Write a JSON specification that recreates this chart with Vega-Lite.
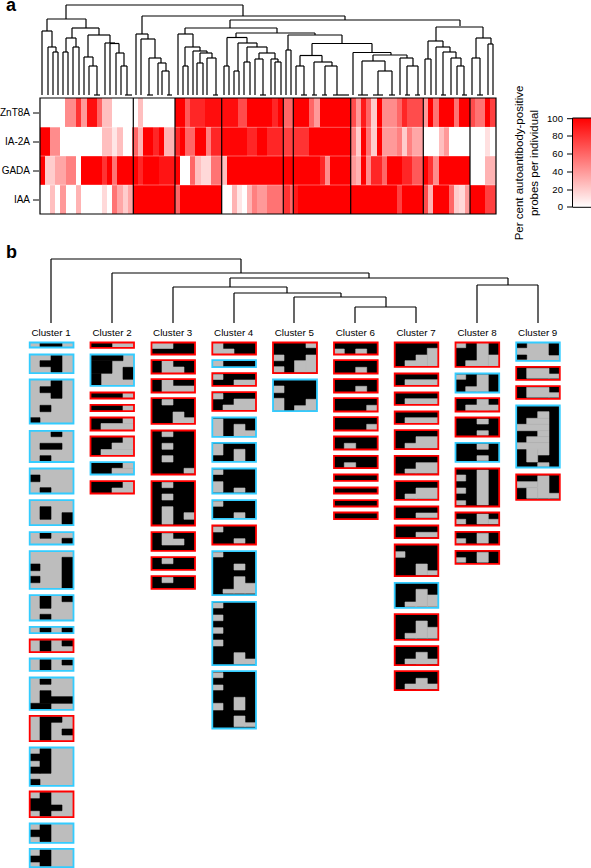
{
"$schema":"https://vega.github.io/schema/vega-lite/v6.json",
"width":591,"height":868,"padding":0,"autosize":{"type":"none"},
"background":"white",
"config":{"view":{"stroke":null},"text":{"font":"Liberation Sans"}},
"datasets":{
"links":[
{"xl":66,"xr":243,"top":5,"bl":19,"br":16},{"xl":47,"xr":86,"top":19,"bl":31,"br":28},{"xl":42,"xr":52,"top":31,"bl":95,"br":47},{"xl":48,"xr":56,"top":47,"bl":95,"br":52},{"xl":53,"xr":58,"top":52,"bl":95,"br":95},{"xl":72,"xr":99,"top":28,"bl":38,"br":35},{"xl":66,"xr":76,"top":38,"bl":52,"br":47},{"xl":63,"xr":68,"top":52,"bl":95,"br":95},{"xl":73,"xr":79,"top":47,"bl":95,"br":95},{"xl":88,"xr":110,"top":35,"bl":57,"br":43},{"xl":84,"xr":93,"top":57,"bl":95,"br":66},{"xl":89,"xr":97,"top":66,"bl":95,"br":95},{"xl":94,"xr":100,"top":95,"bl":95,"br":95},{"xl":105,"xr":115,"top":43,"bl":95,"br":43.5},{"xl":110,"xr":119,"top":43.5,"bl":95,"br":53},{"xl":116,"xr":124,"top":53,"bl":95,"br":66},{"xl":121,"xr":127,"top":66,"bl":95,"br":95},{"xl":125,"xr":132,"top":95,"bl":95,"br":95},
{"xl":142,"xr":345,"top":16,"bl":34,"br":20},{"xl":230,"xr":460,"top":20,"bl":28,"br":26},{"xl":185,"xr":277,"top":28,"bl":34,"br":33},{"xl":136,"xr":148,"top":34,"bl":95,"br":39},{"xl":141,"xr":155,"top":39,"bl":95,"br":58},{"xl":149,"xr":161,"top":58,"bl":95,"br":63},{"xl":158,"xr":166,"top":63,"bl":95,"br":71},{"xl":162,"xr":169,"top":71,"bl":95,"br":95},{"xl":147,"xr":153,"top":95,"bl":95,"br":95},{"xl":167,"xr":172,"top":95,"bl":95,"br":95},
{"xl":178,"xr":193,"top":34,"bl":95,"br":47},{"xl":185,"xr":200,"top":47,"bl":66,"br":51},{"xl":183,"xr":188,"top":66,"bl":95,"br":95},{"xl":193,"xr":207,"top":51,"bl":95,"br":53},{"xl":200,"xr":212,"top":53,"bl":63,"br":58},{"xl":197,"xr":203,"top":63,"bl":95,"br":95},{"xl":207,"xr":216,"top":58,"bl":95,"br":95},{"xl":213,"xr":218,"top":95,"bl":95,"br":95},
{"xl":236,"xr":315,"top":33,"bl":37.5,"br":35},{"xl":227,"xr":247,"top":37.5,"bl":66,"br":43},{"xl":224,"xr":229,"top":66,"bl":95,"br":95},{"xl":238,"xr":257,"top":43,"bl":71,"br":47},{"xl":234,"xr":239,"top":71,"bl":95,"br":95},{"xl":247,"xr":267,"top":47,"bl":62,"br":53},{"xl":244,"xr":250,"top":62,"bl":95,"br":95},{"xl":259,"xr":275,"top":53,"bl":59,"br":59},{"xl":255,"xr":263,"top":59,"bl":95,"br":95},{"xl":260,"xr":266,"top":95,"bl":95,"br":95},{"xl":271,"xr":278,"top":59,"bl":95,"br":62},{"xl":275,"xr":281,"top":62,"bl":95,"br":95},
{"xl":288,"xr":342,"top":35,"bl":50,"br":43.5},{"xl":286,"xr":291,"top":50,"bl":95,"br":95},{"xl":312,"xr":372,"top":43.5,"bl":55.5,"br":52.5},{"xl":300,"xr":322,"top":55.5,"bl":66,"br":62},{"xl":296,"xr":304,"top":66,"bl":95,"br":95},{"xl":301,"xr":307,"top":95,"bl":95,"br":95},{"xl":314,"xr":332,"top":62,"bl":95,"br":66},{"xl":312,"xr":317,"top":95,"bl":95,"br":95},{"xl":325,"xr":337,"top":66,"bl":95,"br":95},{"xl":322,"xr":327,"top":95,"bl":95,"br":95},{"xl":333,"xr":349,"top":95,"bl":95,"br":95},
{"xl":353,"xr":391,"top":52.5,"bl":95,"br":55},{"xl":373,"xr":407,"top":55,"bl":61,"br":58},{"xl":362,"xr":385,"top":61,"bl":95,"br":71},{"xl":358,"xr":368,"top":95,"bl":95,"br":95},{"xl":378,"xr":392,"top":71,"bl":95,"br":95},{"xl":373,"xr":383,"top":95,"bl":95,"br":95},{"xl":389,"xr":395,"top":95,"bl":95,"br":95},{"xl":400,"xr":413,"top":58,"bl":95,"br":66},{"xl":405,"xr":410,"top":95,"bl":95,"br":95},{"xl":407,"xr":418,"top":66,"bl":95,"br":95},{"xl":415,"xr":420,"top":95,"bl":95,"br":95},
{"xl":436,"xr":483,"top":27,"bl":41,"br":38},{"xl":428,"xr":443,"top":41,"bl":59,"br":47},{"xl":425,"xr":431,"top":59,"bl":95,"br":95},{"xl":436,"xr":450,"top":47,"bl":95,"br":52},{"xl":441,"xr":446,"top":95,"bl":95,"br":95},{"xl":443,"xr":456,"top":52,"bl":95,"br":58},{"xl":451,"xr":461,"top":58,"bl":95,"br":66},{"xl":457,"xr":464,"top":66,"bl":95,"br":95},{"xl":462,"xr":467,"top":95,"bl":95,"br":95},{"xl":476,"xr":491,"top":38,"bl":58,"br":44},{"xl":472,"xr":480,"top":58,"bl":95,"br":95},{"xl":477,"xr":483,"top":95,"bl":95,"br":95},{"xl":488,"xr":493,"top":44,"bl":95,"br":95},
{"xl":51,"xr":241,"top":259,"bl":323,"br":273},{"xl":112,"xr":369,"top":273,"bl":323,"br":278},{"xl":230,"xr":508,"top":278,"bl":287,"br":285},{"xl":173,"xr":287,"top":287,"bl":323,"br":293},{"xl":234,"xr":341,"top":293,"bl":323,"br":297},{"xl":294,"xr":386,"top":297,"bl":323,"br":307},{"xl":355,"xr":416,"top":307,"bl":323,"br":323},{"xl":477,"xr":538,"top":285,"bl":323,"br":323}
],
"heat":[
{"x":40,"x2":65,"y":98,"y2":127,"v":0},{"x":65,"x2":76,"y":98,"y2":127,"v":45},{"x":76,"x2":81,"y":98,"y2":127,"v":80},{"x":81,"x2":87,"y":98,"y2":127,"v":40},{"x":87,"x2":97,"y":98,"y2":127,"v":95},{"x":97,"x2":102,"y":98,"y2":127,"v":60},{"x":102,"x2":112,"y":98,"y2":127,"v":25},{"x":112,"x2":138,"y":98,"y2":127,"v":0},{"x":138,"x2":143,"y":98,"y2":127,"v":25},{"x":143,"x2":175,"y":98,"y2":127,"v":0},{"x":175,"x2":185,"y":98,"y2":127,"v":100},{"x":185,"x2":190,"y":98,"y2":127,"v":65},{"x":190,"x2":205,"y":98,"y2":127,"v":85},{"x":205,"x2":238,"y":98,"y2":127,"v":95},{"x":238,"x2":247,"y":98,"y2":127,"v":70},{"x":247,"x2":272,"y":98,"y2":127,"v":100},{"x":272,"x2":278,"y":98,"y2":127,"v":85},{"x":278,"x2":283,"y":98,"y2":127,"v":100},{"x":283,"x2":293,"y":98,"y2":127,"v":60},{"x":293,"x2":309,"y":98,"y2":127,"v":100},{"x":309,"x2":314,"y":98,"y2":127,"v":60},{"x":314,"x2":320,"y":98,"y2":127,"v":40},{"x":320,"x2":351,"y":98,"y2":127,"v":100},{"x":351,"x2":356,"y":98,"y2":127,"v":70},{"x":356,"x2":361,"y":98,"y2":127,"v":40},{"x":361,"x2":366,"y":98,"y2":127,"v":90},{"x":366,"x2":371,"y":98,"y2":127,"v":60},{"x":371,"x2":377,"y":98,"y2":127,"v":20},{"x":377,"x2":382,"y":98,"y2":127,"v":100},{"x":382,"x2":397,"y":98,"y2":127,"v":45},{"x":397,"x2":402,"y":98,"y2":127,"v":60},{"x":402,"x2":407,"y":98,"y2":127,"v":85},{"x":407,"x2":423,"y":98,"y2":127,"v":70},{"x":423,"x2":428,"y":98,"y2":127,"v":40},{"x":428,"x2":433,"y":98,"y2":127,"v":100},{"x":433,"x2":439,"y":98,"y2":127,"v":55},{"x":439,"x2":454,"y":98,"y2":127,"v":100},{"x":454,"x2":459,"y":98,"y2":127,"v":55},{"x":459,"x2":470,"y":98,"y2":127,"v":100},{"x":470,"x2":475,"y":98,"y2":127,"v":70},{"x":475,"x2":485,"y":98,"y2":127,"v":55},{"x":485,"x2":490,"y":98,"y2":127,"v":100},{"x":490,"x2":496,"y":98,"y2":127,"v":75},
{"x":40,"x2":50,"y":127,"y2":156,"v":100},{"x":50,"x2":60,"y":127,"y2":156,"v":45},{"x":60,"x2":102,"y":127,"y2":156,"v":0},{"x":102,"x2":112,"y":127,"y2":156,"v":25},{"x":112,"x2":117,"y":127,"y2":156,"v":10},{"x":117,"x2":123,"y":127,"y2":156,"v":25},{"x":123,"x2":132,"y":127,"y2":156,"v":0},{"x":132,"x2":138,"y":127,"y2":156,"v":60},{"x":138,"x2":143,"y":127,"y2":156,"v":30},{"x":143,"x2":153,"y":127,"y2":156,"v":100},{"x":153,"x2":159,"y":127,"y2":156,"v":85},{"x":159,"x2":164,"y":127,"y2":156,"v":100},{"x":164,"x2":175,"y":127,"y2":156,"v":30},{"x":175,"x2":180,"y":127,"y2":156,"v":85},{"x":180,"x2":185,"y":127,"y2":156,"v":100},{"x":185,"x2":195,"y":127,"y2":156,"v":60},{"x":195,"x2":206,"y":127,"y2":156,"v":100},{"x":206,"x2":211,"y":127,"y2":156,"v":50},{"x":211,"x2":222,"y":127,"y2":156,"v":85},{"x":222,"x2":247,"y":127,"y2":156,"v":98},{"x":247,"x2":257,"y":127,"y2":156,"v":85},{"x":257,"x2":267,"y":127,"y2":156,"v":100},{"x":267,"x2":283,"y":127,"y2":156,"v":85},{"x":283,"x2":293,"y":127,"y2":156,"v":75},{"x":293,"x2":309,"y":127,"y2":156,"v":80},{"x":309,"x2":351,"y":127,"y2":156,"v":100},{"x":351,"x2":356,"y":127,"y2":156,"v":50},{"x":356,"x2":361,"y":127,"y2":156,"v":20},{"x":361,"x2":366,"y":127,"y2":156,"v":100},{"x":366,"x2":371,"y":127,"y2":156,"v":55},{"x":371,"x2":377,"y":127,"y2":156,"v":20},{"x":377,"x2":382,"y":127,"y2":156,"v":100},{"x":382,"x2":397,"y":127,"y2":156,"v":40},{"x":397,"x2":402,"y":127,"y2":156,"v":50},{"x":402,"x2":407,"y":127,"y2":156,"v":20},{"x":407,"x2":412,"y":127,"y2":156,"v":50},{"x":412,"x2":423,"y":127,"y2":156,"v":35},{"x":423,"x2":439,"y":127,"y2":156,"v":0},{"x":439,"x2":444,"y":127,"y2":156,"v":25},{"x":444,"x2":449,"y":127,"y2":156,"v":40},{"x":449,"x2":485,"y":127,"y2":156,"v":0},{"x":485,"x2":490,"y":127,"y2":156,"v":12},{"x":490,"x2":496,"y":127,"y2":156,"v":0},
{"x":40,"x2":45,"y":156,"y2":185,"v":100},{"x":45,"x2":55,"y":156,"y2":185,"v":20},{"x":55,"x2":66,"y":156,"y2":185,"v":35},{"x":66,"x2":76,"y":156,"y2":185,"v":50},{"x":76,"x2":81,"y":156,"y2":185,"v":0},{"x":81,"x2":102,"y":156,"y2":185,"v":100},{"x":102,"x2":107,"y":156,"y2":185,"v":80},{"x":107,"x2":112,"y":156,"y2":185,"v":100},{"x":112,"x2":117,"y":156,"y2":185,"v":55},{"x":117,"x2":138,"y":156,"y2":185,"v":100},{"x":138,"x2":143,"y":156,"y2":185,"v":85},{"x":143,"x2":159,"y":156,"y2":185,"v":100},{"x":159,"x2":175,"y":156,"y2":185,"v":92},{"x":175,"x2":180,"y":156,"y2":185,"v":100},{"x":180,"x2":190,"y":156,"y2":185,"v":0},{"x":190,"x2":195,"y":156,"y2":185,"v":60},{"x":195,"x2":201,"y":156,"y2":185,"v":25},{"x":201,"x2":211,"y":156,"y2":185,"v":15},{"x":211,"x2":222,"y":156,"y2":185,"v":55},{"x":222,"x2":227,"y":156,"y2":185,"v":25},{"x":227,"x2":320,"y":156,"y2":185,"v":100},{"x":320,"x2":325,"y":156,"y2":185,"v":85},{"x":325,"x2":330,"y":156,"y2":185,"v":45},{"x":330,"x2":351,"y":156,"y2":185,"v":100},{"x":351,"x2":356,"y":156,"y2":185,"v":40},{"x":356,"x2":361,"y":156,"y2":185,"v":30},{"x":361,"x2":366,"y":156,"y2":185,"v":100},{"x":366,"x2":371,"y":156,"y2":185,"v":45},{"x":371,"x2":382,"y":156,"y2":185,"v":85},{"x":382,"x2":387,"y":156,"y2":185,"v":60},{"x":387,"x2":402,"y":156,"y2":185,"v":100},{"x":402,"x2":412,"y":156,"y2":185,"v":85},{"x":412,"x2":423,"y":156,"y2":185,"v":65},{"x":423,"x2":428,"y":156,"y2":185,"v":100},{"x":428,"x2":433,"y":156,"y2":185,"v":80},{"x":433,"x2":439,"y":156,"y2":185,"v":45},{"x":439,"x2":470,"y":156,"y2":185,"v":100},{"x":470,"x2":485,"y":156,"y2":185,"v":0},{"x":485,"x2":496,"y":156,"y2":185,"v":30},
{"x":40,"x2":50,"y":185,"y2":214,"v":0},{"x":50,"x2":55,"y":185,"y2":214,"v":25},{"x":55,"x2":60,"y":185,"y2":214,"v":0},{"x":60,"x2":66,"y":185,"y2":214,"v":40},{"x":66,"x2":76,"y":185,"y2":214,"v":0},{"x":76,"x2":81,"y":185,"y2":214,"v":30},{"x":81,"x2":102,"y":185,"y2":214,"v":0},{"x":102,"x2":107,"y":185,"y2":214,"v":15},{"x":107,"x2":112,"y":185,"y2":214,"v":0},{"x":112,"x2":117,"y":185,"y2":214,"v":55},{"x":117,"x2":123,"y":185,"y2":214,"v":35},{"x":123,"x2":128,"y":185,"y2":214,"v":20},{"x":128,"x2":133,"y":185,"y2":214,"v":35},{"x":133,"x2":175,"y":185,"y2":214,"v":100},{"x":175,"x2":180,"y":185,"y2":214,"v":60},{"x":180,"x2":222,"y":185,"y2":214,"v":100},{"x":222,"x2":232,"y":185,"y2":214,"v":0},{"x":232,"x2":237,"y":185,"y2":214,"v":30},{"x":237,"x2":242,"y":185,"y2":214,"v":10},{"x":242,"x2":247,"y":185,"y2":214,"v":0},{"x":247,"x2":252,"y":185,"y2":214,"v":30},{"x":252,"x2":257,"y":185,"y2":214,"v":50},{"x":257,"x2":267,"y":185,"y2":214,"v":40},{"x":267,"x2":283,"y":185,"y2":214,"v":55},{"x":283,"x2":290,"y":185,"y2":214,"v":80},{"x":290,"x2":293,"y":185,"y2":214,"v":60},{"x":293,"x2":298,"y":185,"y2":214,"v":90},{"x":298,"x2":397,"y":185,"y2":214,"v":100},{"x":397,"x2":402,"y":185,"y2":214,"v":75},{"x":402,"x2":423,"y":185,"y2":214,"v":100},{"x":423,"x2":428,"y":185,"y2":214,"v":70},{"x":428,"x2":433,"y":185,"y2":214,"v":30},{"x":433,"x2":449,"y":185,"y2":214,"v":100},{"x":449,"x2":454,"y":185,"y2":214,"v":60},{"x":454,"x2":459,"y":185,"y2":214,"v":20},{"x":459,"x2":465,"y":185,"y2":214,"v":15},{"x":465,"x2":470,"y":185,"y2":214,"v":40},{"x":470,"x2":485,"y":185,"y2":214,"v":100},{"x":485,"x2":496,"y":185,"y2":214,"v":75}
],
"seps":[{"x":133.3,"y":98,"y2":214},{"x":175,"y":98,"y2":214},{"x":221.7,"y":98,"y2":214},{"x":283.3,"y":98,"y2":214},{"x":293.3,"y":98,"y2":214},{"x":350.7,"y":98,"y2":214},{"x":423.3,"y":98,"y2":214},{"x":470,"y":98,"y2":214}],
"rowLabels":[{"t":"ZnT8A","x":30,"xt":33,"xe":39,"y":113},{"t":"IA-2A","x":30,"xt":33,"xe":39,"y":142},{"t":"GADA","x":30,"xt":33,"xe":39,"y":171},{"t":"IAA","x":30,"xt":33,"xe":39,"y":200}],
"legendTicks":[{"t":"100","x":563,"xt":567,"xe":572,"y":118.7},{"t":"80","x":563,"xt":567,"xe":572,"y":136},{"t":"60","x":563,"xt":567,"xe":572,"y":154},{"t":"40","x":563,"xt":567,"xe":572,"y":172},{"t":"20","x":563,"xt":567,"xe":572,"y":190},{"t":"0","x":563,"xt":567,"xe":572,"y":207}],
"clusters":[{"t":"Cluster 1","x":51,"y":333},{"t":"Cluster 2","x":112,"y":333},{"t":"Cluster 3","x":172.7,"y":333},{"t":"Cluster 4","x":233.7,"y":333},{"t":"Cluster 5","x":294.3,"y":333},{"t":"Cluster 6","x":355.3,"y":333},{"t":"Cluster 7","x":416,"y":333},{"t":"Cluster 8","x":477,"y":333},{"t":"Cluster 9","x":537.7,"y":333}],
"frames":[
{"x":29.7,"x2":73.5,"y":342.5,"y2":347.5,"k":"blue","bg":"neg"},{"x":29.7,"x2":73.5,"y":354.5,"y2":373.2,"k":"blue","bg":"neg"},{"x":29.7,"x2":73.5,"y":379.5,"y2":423.5,"k":"blue","bg":"neg"},{"x":29.7,"x2":73.5,"y":430.8,"y2":462,"k":"blue","bg":"neg"},{"x":29.7,"x2":73.5,"y":468.5,"y2":493.5,"k":"blue","bg":"neg"},{"x":29.7,"x2":73.5,"y":500.1,"y2":525.2,"k":"blue","bg":"neg"},{"x":29.7,"x2":73.5,"y":532.1,"y2":544.5,"k":"blue","bg":"neg"},{"x":29.7,"x2":73.5,"y":551.1,"y2":588.9,"k":"blue","bg":"neg"},{"x":29.7,"x2":73.5,"y":595.1,"y2":620.5,"k":"blue","bg":"neg"},{"x":29.7,"x2":73.5,"y":626.8,"y2":633.2,"k":"blue","bg":"neg"},{"x":29.7,"x2":73.5,"y":639.5,"y2":652.2,"k":"red","bg":"neg"},{"x":29.7,"x2":73.5,"y":658.5,"y2":670.9,"k":"blue","bg":"neg"},{"x":29.7,"x2":73.5,"y":677.5,"y2":709.9,"k":"blue","bg":"neg"},{"x":29.7,"x2":73.5,"y":715.8,"y2":741.2,"k":"red","bg":"neg"},{"x":29.7,"x2":73.5,"y":747.5,"y2":785.9,"k":"blue","bg":"neg"},{"x":29.7,"x2":73.5,"y":791.5,"y2":817.2,"k":"red","bg":"neg"},{"x":29.7,"x2":73.5,"y":823.5,"y2":842.9,"k":"blue","bg":"neg"},{"x":29.7,"x2":73.5,"y":848.8,"y2":867.2,"k":"blue","bg":"neg"},
{"x":90.5,"x2":134,"y":342.5,"y2":347.9,"k":"red","bg":"neg"},{"x":90.5,"x2":134,"y":354.5,"y2":385.9,"k":"blue","bg":"neg"},{"x":90.5,"x2":134,"y":392.5,"y2":398.5,"k":"red","bg":"pos"},{"x":90.5,"x2":134,"y":404.8,"y2":411.2,"k":"red","bg":"pos"},{"x":90.5,"x2":134,"y":417.5,"y2":430.5,"k":"red","bg":"pos"},{"x":90.5,"x2":134,"y":436.5,"y2":455.9,"k":"red","bg":"pos"},{"x":90.5,"x2":134,"y":462.1,"y2":474.5,"k":"blue","bg":"pos"},{"x":90.5,"x2":134,"y":481.1,"y2":493.5,"k":"red","bg":"pos"},
{"x":151.5,"x2":195,"y":342.5,"y2":354.5,"k":"red","bg":"pos"},{"x":151.5,"x2":195,"y":360.1,"y2":373.5,"k":"red","bg":"pos"},{"x":151.5,"x2":195,"y":379.1,"y2":392.5,"k":"red","bg":"pos"},{"x":151.5,"x2":195,"y":398.1,"y2":423.9,"k":"red","bg":"pos"},{"x":151.5,"x2":195,"y":430.5,"y2":474.5,"k":"red","bg":"pos"},{"x":151.5,"x2":195,"y":481.1,"y2":525.5,"k":"red","bg":"pos"},{"x":151.5,"x2":195,"y":532.1,"y2":550.9,"k":"red","bg":"pos"},{"x":151.5,"x2":195,"y":557.1,"y2":569.9,"k":"red","bg":"pos"},{"x":151.5,"x2":195,"y":576.1,"y2":588.9,"k":"red","bg":"pos"},
{"x":212.3,"x2":256,"y":342.5,"y2":354.5,"k":"red","bg":"pos"},{"x":212.3,"x2":256,"y":360.1,"y2":367.2,"k":"blue","bg":"pos"},{"x":212.3,"x2":256,"y":373.1,"y2":385.9,"k":"red","bg":"pos"},{"x":212.3,"x2":256,"y":392.1,"y2":410.9,"k":"red","bg":"pos"},{"x":212.3,"x2":256,"y":417.5,"y2":436.9,"k":"blue","bg":"pos"},{"x":212.3,"x2":256,"y":442.8,"y2":461.9,"k":"blue","bg":"pos"},{"x":212.3,"x2":256,"y":468.5,"y2":493.5,"k":"blue","bg":"pos"},{"x":212.3,"x2":256,"y":500.1,"y2":518.9,"k":"blue","bg":"pos"},{"x":212.3,"x2":256,"y":525.5,"y2":544.5,"k":"red","bg":"pos"},{"x":212.3,"x2":256,"y":551.1,"y2":595.2,"k":"blue","bg":"pos"},{"x":212.3,"x2":256,"y":601.8,"y2":665.2,"k":"blue","bg":"pos"},{"x":212.3,"x2":256,"y":671.1,"y2":728.5,"k":"blue","bg":"pos"},
{"x":273,"x2":317,"y":342.5,"y2":373.2,"k":"red","bg":"pos"},{"x":273,"x2":317,"y":379.5,"y2":411.2,"k":"blue","bg":"pos"},
{"x":334,"x2":377.7,"y":342.5,"y2":354.5,"k":"red","bg":"pos"},{"x":334,"x2":377.7,"y":360.1,"y2":373.5,"k":"red","bg":"pos"},{"x":334,"x2":377.7,"y":379.1,"y2":392.5,"k":"red","bg":"pos"},{"x":334,"x2":377.7,"y":398.1,"y2":411.5,"k":"red","bg":"pos"},{"x":334,"x2":377.7,"y":417.1,"y2":430.5,"k":"red","bg":"pos"},{"x":334,"x2":377.7,"y":436.5,"y2":449.5,"k":"red","bg":"pos"},{"x":334,"x2":377.7,"y":455.8,"y2":468.2,"k":"red","bg":"pos"},{"x":334,"x2":377.7,"y":474.5,"y2":480.9,"k":"red","bg":"pos"},{"x":334,"x2":377.7,"y":487.5,"y2":493.5,"k":"red","bg":"pos"},{"x":334,"x2":377.7,"y":500.1,"y2":506.5,"k":"red","bg":"pos"},{"x":334,"x2":377.7,"y":512.5,"y2":519.2,"k":"red","bg":"pos"},
{"x":394.7,"x2":438.3,"y":342.5,"y2":366.9,"k":"red","bg":"pos"},{"x":394.7,"x2":438.3,"y":373.5,"y2":385.9,"k":"red","bg":"pos"},{"x":394.7,"x2":438.3,"y":392.5,"y2":404.9,"k":"red","bg":"pos"},{"x":394.7,"x2":438.3,"y":411.5,"y2":423.9,"k":"red","bg":"pos"},{"x":394.7,"x2":438.3,"y":430.1,"y2":449.2,"k":"red","bg":"pos"},{"x":394.7,"x2":438.3,"y":455.8,"y2":474.5,"k":"red","bg":"pos"},{"x":394.7,"x2":438.3,"y":481.1,"y2":499.9,"k":"red","bg":"pos"},{"x":394.7,"x2":438.3,"y":506.5,"y2":518.9,"k":"red","bg":"pos"},{"x":394.7,"x2":438.3,"y":525.5,"y2":538.2,"k":"red","bg":"pos"},{"x":394.7,"x2":438.3,"y":544.5,"y2":576.2,"k":"red","bg":"pos"},{"x":394.7,"x2":438.3,"y":582.8,"y2":607.9,"k":"blue","bg":"pos"},{"x":394.7,"x2":438.3,"y":614.1,"y2":639.9,"k":"red","bg":"pos"},{"x":394.7,"x2":438.3,"y":646.1,"y2":665.2,"k":"red","bg":"pos"},{"x":394.7,"x2":438.3,"y":671.1,"y2":690.2,"k":"red","bg":"pos"},
{"x":455.5,"x2":499.2,"y":342.5,"y2":366.9,"k":"red","bg":"pos"},{"x":455.5,"x2":499.2,"y":373.5,"y2":392.5,"k":"blue","bg":"pos"},{"x":455.5,"x2":499.2,"y":398.1,"y2":411.5,"k":"red","bg":"pos"},{"x":455.5,"x2":499.2,"y":417.5,"y2":436.5,"k":"red","bg":"pos"},{"x":455.5,"x2":499.2,"y":442.8,"y2":461.9,"k":"blue","bg":"pos"},{"x":455.5,"x2":499.2,"y":468.5,"y2":506.5,"k":"red","bg":"pos"},{"x":455.5,"x2":499.2,"y":512.5,"y2":525.5,"k":"red","bg":"pos"},{"x":455.5,"x2":499.2,"y":531.8,"y2":544.5,"k":"red","bg":"pos"},{"x":455.5,"x2":499.2,"y":550.8,"y2":563.9,"k":"red","bg":"pos"},
{"x":516.2,"x2":559.8,"y":342.5,"y2":360.9,"k":"blue","bg":"neg"},{"x":516.2,"x2":559.8,"y":366.8,"y2":379.9,"k":"red","bg":"pos"},{"x":516.2,"x2":559.8,"y":386.1,"y2":398.9,"k":"red","bg":"pos"},{"x":516.2,"x2":559.8,"y":405.5,"y2":467.5,"k":"blue","bg":"pos"},{"x":516.2,"x2":559.8,"y":474.5,"y2":499.9,"k":"red","bg":"pos"}
],
"patches":[
{"x":40,"x2":62,"y":342.5,"y2":347.5,"s":"pos"},{"x":51,"x2":62,"y":355.2,"y2":372.5,"s":"pos"},{"x":40,"x2":51,"y":360.7,"y2":366.7,"s":"pos"},{"x":51,"x2":62,"y":380.3,"y2":398.3,"s":"pos"},{"x":40,"x2":51,"y":386.7,"y2":392.7,"s":"pos"},{"x":40,"x2":51,"y":405.3,"y2":411.7,"s":"pos"},{"x":30,"x2":40,"y":417.7,"y2":423,"s":"pos"},{"x":51,"x2":62,"y":431.7,"y2":436.7,"s":"pos"},{"x":40,"x2":62,"y":443.3,"y2":449.3,"s":"pos"},{"x":40,"x2":51,"y":455.7,"y2":461,"s":"pos"},{"x":30,"x2":40,"y":475,"y2":481.7,"s":"pos"},{"x":40,"x2":51,"y":487.7,"y2":492.7,"s":"pos"},{"x":40,"x2":51,"y":506.7,"y2":519.3,"s":"pos"},{"x":62,"x2":73,"y":512.7,"y2":524.3,"s":"pos"},{"x":40,"x2":51,"y":533,"y2":538.3,"s":"pos"},{"x":62,"x2":73,"y":538.3,"y2":543.5,"s":"pos"},{"x":62,"x2":73,"y":557.3,"y2":588.3,"s":"pos"},{"x":30,"x2":40,"y":564,"y2":570.7,"s":"pos"},{"x":30,"x2":40,"y":576.3,"y2":582.7,"s":"pos"},{"x":40,"x2":51,"y":596,"y2":608.3,"s":"pos"},{"x":62,"x2":73,"y":596,"y2":601.7,"s":"pos"},{"x":40,"x2":51,"y":614.3,"y2":619.7,"s":"pos"},{"x":40,"x2":51,"y":627.5,"y2":632.5,"s":"pos"},{"x":62,"x2":73,"y":627.5,"y2":632.5,"s":"pos"},{"x":40,"x2":51,"y":640.3,"y2":651.3,"s":"pos"},{"x":62,"x2":73,"y":640.3,"y2":646,"s":"pos"},{"x":40,"x2":51,"y":659.3,"y2":670,"s":"pos"},{"x":62,"x2":73,"y":660,"y2":665,"s":"pos"},{"x":40,"x2":51,"y":679,"y2":684.3,"s":"pos"},{"x":40,"x2":51,"y":690.7,"y2":703.3,"s":"pos"},{"x":51,"x2":73,"y":696.7,"y2":703.3,"s":"pos"},{"x":30,"x2":51,"y":703.3,"y2":709,"s":"pos"},{"x":40,"x2":51,"y":716.7,"y2":740.4,"s":"pos"},{"x":51,"x2":62,"y":716.7,"y2":722.3,"s":"pos"},{"x":62,"x2":73,"y":729,"y2":735,"s":"pos"},{"x":40,"x2":51,"y":748.5,"y2":773.3,"s":"pos"},{"x":30,"x2":40,"y":754,"y2":760.7,"s":"pos"},{"x":30,"x2":40,"y":767,"y2":773.3,"s":"pos"},{"x":30,"x2":40,"y":779.3,"y2":785,"s":"pos"},{"x":40,"x2":51,"y":792.3,"y2":816.2,"s":"pos"},{"x":30,"x2":40,"y":798.7,"y2":810.7,"s":"pos"},{"x":51,"x2":62,"y":805,"y2":810.7,"s":"pos"},{"x":40,"x2":51,"y":824.3,"y2":841.7,"s":"pos"},{"x":30,"x2":40,"y":830,"y2":836.7,"s":"pos"},{"x":40,"x2":51,"y":849.6,"y2":866.4,"s":"pos"},{"x":30,"x2":40,"y":856,"y2":862,"s":"pos"},
{"x":91,"x2":112,"y":343,"y2":347.4,"s":"pos"},{"x":91,"x2":123,"y":355,"y2":360.7,"s":"pos"},{"x":91,"x2":112,"y":360.7,"y2":373.3,"s":"pos"},{"x":91,"x2":101,"y":373.3,"y2":385.2,"s":"pos"},{"x":123,"x2":133.6,"y":367.3,"y2":379.3,"s":"pos"},{"x":123,"x2":134,"y":392.5,"y2":398.5,"s":"neg"},{"x":123,"x2":134,"y":404.8,"y2":411.2,"s":"neg"},{"x":123,"x2":134,"y":418,"y2":423.5,"s":"neg"},{"x":101,"x2":134,"y":423.5,"y2":430,"s":"neg"},{"x":123,"x2":134,"y":437,"y2":443,"s":"neg"},{"x":112,"x2":134,"y":443,"y2":449.5,"s":"neg"},{"x":101,"x2":134,"y":449.5,"y2":455.5,"s":"neg"},{"x":123,"x2":134,"y":462.7,"y2":468.3,"s":"neg"},{"x":112,"x2":134,"y":468.3,"y2":473.9,"s":"neg"},{"x":123,"x2":134,"y":482,"y2":488,"s":"neg"},{"x":112,"x2":134,"y":488,"y2":493,"s":"neg"},
{"x":151.5,"x2":173,"y":343,"y2":348.5,"s":"neg"},{"x":162,"x2":173,"y":361,"y2":373,"s":"neg"},{"x":173,"x2":184,"y":367,"y2":373,"s":"neg"},{"x":162,"x2":173,"y":380,"y2":392,"s":"neg"},{"x":173,"x2":195,"y":386,"y2":392,"s":"neg"},{"x":162,"x2":173,"y":399.5,"y2":405,"s":"neg"},{"x":173,"x2":184,"y":412,"y2":423.4,"s":"neg"},{"x":184,"x2":195,"y":417.7,"y2":423.4,"s":"neg"},{"x":162,"x2":173,"y":431.7,"y2":436.7,"s":"neg"},{"x":162,"x2":173,"y":443.3,"y2":449.3,"s":"neg"},{"x":162,"x2":173,"y":455.7,"y2":462,"s":"neg"},{"x":184,"x2":195,"y":468.3,"y2":473.3,"s":"neg"},{"x":162,"x2":173,"y":482.3,"y2":487.7,"s":"neg"},{"x":162,"x2":173,"y":494,"y2":500,"s":"neg"},{"x":162,"x2":173,"y":506.7,"y2":524.3,"s":"neg"},{"x":184,"x2":195,"y":512.7,"y2":519.3,"s":"neg"},{"x":162,"x2":173,"y":533.3,"y2":545,"s":"neg"},{"x":173,"x2":184,"y":539,"y2":545,"s":"neg"},{"x":162,"x2":173,"y":558.3,"y2":563.7,"s":"neg"},{"x":162,"x2":173,"y":577.3,"y2":582.7,"s":"neg"},
{"x":212.5,"x2":223,"y":343,"y2":354,"s":"neg"},{"x":223,"x2":234,"y":349,"y2":354,"s":"neg"},{"x":212.5,"x2":223,"y":361,"y2":366.5,"s":"neg"},{"x":212.5,"x2":223,"y":374.5,"y2":379.5,"s":"neg"},{"x":234,"x2":256,"y":380,"y2":385.5,"s":"neg"},{"x":212.5,"x2":223,"y":393.5,"y2":399,"s":"neg"},{"x":234,"x2":256,"y":399,"y2":410.5,"s":"neg"},{"x":223,"x2":234,"y":405,"y2":410.5,"s":"neg"},{"x":212.5,"x2":223,"y":419,"y2":436.5,"s":"neg"},{"x":234,"x2":245,"y":424.3,"y2":436.5,"s":"neg"},{"x":245,"x2":256,"y":430.7,"y2":436.5,"s":"neg"},{"x":212.5,"x2":223,"y":444,"y2":455,"s":"neg"},{"x":234,"x2":245,"y":449.3,"y2":461,"s":"neg"},{"x":212.5,"x2":223,"y":469.7,"y2":474.5,"s":"neg"},{"x":212.5,"x2":223,"y":481.7,"y2":492.3,"s":"neg"},{"x":234,"x2":245,"y":488,"y2":492.3,"s":"neg"},{"x":212.5,"x2":223,"y":501.3,"y2":506.3,"s":"neg"},{"x":234,"x2":245,"y":512.7,"y2":518.3,"s":"neg"},{"x":212.5,"x2":223,"y":526.7,"y2":532,"s":"neg"},{"x":234,"x2":245,"y":538.7,"y2":543.3,"s":"neg"},{"x":212.5,"x2":223,"y":552.3,"y2":557,"s":"neg"},{"x":234,"x2":245,"y":564,"y2":570,"s":"neg"},{"x":234,"x2":245,"y":576.7,"y2":593.3,"s":"neg"},{"x":245,"x2":256,"y":583.3,"y2":593.3,"s":"neg"},{"x":223,"x2":234,"y":589.3,"y2":593.3,"s":"neg"},{"x":212.5,"x2":223,"y":603,"y2":608,"s":"neg"},{"x":212.5,"x2":223,"y":615,"y2":620.7,"s":"neg"},{"x":212.5,"x2":223,"y":627.7,"y2":633.3,"s":"neg"},{"x":212.5,"x2":223,"y":640,"y2":646,"s":"neg"},{"x":234,"x2":245,"y":652.7,"y2":664,"s":"neg"},{"x":245,"x2":256,"y":659,"y2":664,"s":"neg"},{"x":212.5,"x2":223,"y":672.7,"y2":677.7,"s":"neg"},{"x":212.5,"x2":223,"y":685,"y2":690,"s":"neg"},{"x":212.5,"x2":223,"y":703.3,"y2":710,"s":"neg"},{"x":234,"x2":245,"y":697.3,"y2":710,"s":"neg"},{"x":234,"x2":245,"y":716,"y2":726.7,"s":"neg"},{"x":245,"x2":256,"y":722.7,"y2":726.7,"s":"neg"},
{"x":306,"x2":316,"y":342.7,"y2":347.7,"s":"neg"},{"x":273.5,"x2":284,"y":355,"y2":360.7,"s":"neg"},{"x":273.5,"x2":284,"y":366.7,"y2":372.3,"s":"neg"},{"x":306,"x2":316,"y":355,"y2":372.3,"s":"neg"},{"x":294.5,"x2":306,"y":360.7,"y2":372.3,"s":"neg"},{"x":273.5,"x2":284,"y":386,"y2":392.7,"s":"neg"},{"x":273.5,"x2":284,"y":398.3,"y2":410.7,"s":"neg"},{"x":294.5,"x2":306,"y":405.7,"y2":410.7,"s":"neg"},{"x":306,"x2":316,"y":399.3,"y2":410.7,"s":"neg"},
{"x":334.5,"x2":344.3,"y":349,"y2":354,"s":"neg"},{"x":355.7,"x2":366.7,"y":349,"y2":354,"s":"neg"},{"x":355.7,"x2":366.7,"y":367.3,"y2":373,"s":"neg"},{"x":355.7,"x2":366.7,"y":386.3,"y2":392,"s":"neg"},{"x":366.7,"x2":377.3,"y":405.3,"y2":411,"s":"neg"},{"x":366.7,"x2":377.3,"y":424.3,"y2":430,"s":"neg"},{"x":344.3,"x2":355.7,"y":443.3,"y2":448.8,"s":"neg"},{"x":344.3,"x2":355.7,"y":462.7,"y2":467.5,"s":"neg"},
{"x":427.3,"x2":438,"y":348.3,"y2":366,"s":"neg"},{"x":416,"x2":427.3,"y":355,"y2":366,"s":"neg"},{"x":405,"x2":416,"y":360.7,"y2":366,"s":"neg"},{"x":405,"x2":438,"y":379.7,"y2":385,"s":"neg"},{"x":405,"x2":438,"y":398.7,"y2":404,"s":"neg"},{"x":405,"x2":438,"y":417.7,"y2":423,"s":"neg"},{"x":416,"x2":438,"y":436.7,"y2":448.3,"s":"neg"},{"x":405,"x2":416,"y":443.3,"y2":448.3,"s":"neg"},{"x":416,"x2":438,"y":462.7,"y2":473.3,"s":"neg"},{"x":405,"x2":416,"y":469,"y2":473.3,"s":"neg"},{"x":416,"x2":438,"y":488,"y2":498.7,"s":"neg"},{"x":405,"x2":416,"y":494,"y2":498.7,"s":"neg"},{"x":416,"x2":438,"y":513,"y2":517.7,"s":"neg"},{"x":416,"x2":438,"y":532.3,"y2":537,"s":"neg"},{"x":395,"x2":405,"y":551.7,"y2":557.3,"s":"neg"},{"x":416,"x2":427.3,"y":564,"y2":575,"s":"neg"},{"x":427.3,"x2":438,"y":570.7,"y2":575,"s":"neg"},{"x":416,"x2":427.3,"y":589.3,"y2":606.7,"s":"neg"},{"x":427.3,"x2":438,"y":595,"y2":606.7,"s":"neg"},{"x":405,"x2":416,"y":602,"y2":606.7,"s":"neg"},{"x":416,"x2":427.3,"y":621,"y2":638.3,"s":"neg"},{"x":427.3,"x2":438,"y":627.3,"y2":638.3,"s":"neg"},{"x":405,"x2":416,"y":633.3,"y2":638.3,"s":"neg"},{"x":416,"x2":427.3,"y":652.3,"y2":664,"s":"neg"},{"x":405,"x2":438,"y":659,"y2":664,"s":"neg"},{"x":416,"x2":427.3,"y":678.3,"y2":689,"s":"neg"},{"x":405,"x2":438,"y":684,"y2":689,"s":"neg"},
{"x":455.7,"x2":465.7,"y":342.7,"y2":347.7,"s":"neg"},{"x":477,"x2":488.3,"y":342.7,"y2":366,"s":"neg"},{"x":488.3,"x2":499,"y":355,"y2":366,"s":"neg"},{"x":465.7,"x2":477,"y":360.7,"y2":366,"s":"neg"},{"x":455.7,"x2":465.7,"y":374.7,"y2":379.3,"s":"neg"},{"x":477,"x2":488.3,"y":374.7,"y2":391.7,"s":"neg"},{"x":465.7,"x2":477,"y":386.7,"y2":391.7,"s":"neg"},{"x":477,"x2":488.3,"y":399.3,"y2":410.7,"s":"neg"},{"x":465.7,"x2":499,"y":405,"y2":410.7,"s":"neg"},{"x":477,"x2":488.3,"y":419,"y2":424,"s":"neg"},{"x":477,"x2":488.3,"y":430.7,"y2":435.3,"s":"neg"},{"x":477,"x2":488.3,"y":444,"y2":449.3,"s":"neg"},{"x":477,"x2":488.3,"y":455.7,"y2":460.7,"s":"neg"},{"x":477,"x2":488.3,"y":470,"y2":505,"s":"neg"},{"x":455.7,"x2":465.7,"y":475,"y2":481,"s":"neg"},{"x":455.7,"x2":465.7,"y":488,"y2":493.3,"s":"neg"},{"x":455.7,"x2":465.7,"y":500.7,"y2":505,"s":"neg"},{"x":477,"x2":488.3,"y":514,"y2":524,"s":"neg"},{"x":455.7,"x2":465.7,"y":519.3,"y2":524,"s":"neg"},{"x":488.3,"x2":499,"y":519.3,"y2":524,"s":"neg"},{"x":477,"x2":488.3,"y":533.3,"y2":543.3,"s":"neg"},{"x":455.7,"x2":465.7,"y":538.7,"y2":543.3,"s":"neg"},{"x":477,"x2":488.3,"y":552.3,"y2":562.3,"s":"neg"},{"x":455.7,"x2":465.7,"y":557.7,"y2":562.3,"s":"neg"},
{"x":516.7,"x2":526.7,"y":343,"y2":347.7,"s":"pos"},{"x":516.7,"x2":526.7,"y":355,"y2":359.3,"s":"pos"},{"x":549,"x2":559.3,"y":343,"y2":355,"s":"pos"},{"x":526.7,"x2":549,"y":368.3,"y2":378.3,"s":"neg"},{"x":549,"x2":559.3,"y":374,"y2":378.3,"s":"neg"},{"x":526.7,"x2":549,"y":387.3,"y2":397.3,"s":"neg"},{"x":549,"x2":559.3,"y":392.7,"y2":397.3,"s":"neg"},{"x":537.7,"x2":549,"y":411.7,"y2":418.3,"s":"neg"},{"x":526.7,"x2":549,"y":418.3,"y2":424.3,"s":"neg"},{"x":516.7,"x2":549,"y":424.3,"y2":430.7,"s":"neg"},{"x":537.7,"x2":549,"y":430.7,"y2":436.7,"s":"neg"},{"x":526.7,"x2":549,"y":436.7,"y2":442.7,"s":"neg"},{"x":516.7,"x2":549,"y":442.7,"y2":449,"s":"neg"},{"x":537.7,"x2":549,"y":449,"y2":455,"s":"neg"},{"x":526.7,"x2":537.7,"y":449,"y2":462,"s":"neg"},{"x":537.7,"x2":549,"y":462.7,"y2":466.7,"s":"neg"},{"x":537.7,"x2":549,"y":475.7,"y2":498.3,"s":"neg"},{"x":516.7,"x2":537.7,"y":481.7,"y2":487.7,"s":"neg"},{"x":526.7,"x2":537.7,"y":487.7,"y2":498.3,"s":"neg"},{"x":549,"x2":559.3,"y":493.3,"y2":498.3,"s":"neg"}
]
},
"layer":[
{"data":{"name":"heat"},"mark":{"type":"rect"},"encoding":{
"x":{"field":"x","type":"quantitative","scale":{"domain":[0,591],"nice":false,"zero":false},"axis":null},
"x2":{"field":"x2"},
"y":{"field":"y","type":"quantitative","scale":{"domain":[868,0],"nice":false,"zero":false},"axis":null},
"y2":{"field":"y2"},
"color":{"field":"v","type":"quantitative","scale":{"type":"linear","domain":[0,100],"range":["#ffffff","#ff0000"],"interpolate":"rgb","zero":false,"nice":false},"legend":null}}},
{"data":{"name":"links"},"mark":{"type":"rule","stroke":"#000000","strokeWidth":1.2},"encoding":{"x":{"field":"xl","type":"quantitative","axis":null},"x2":{"field":"xr"},"y":{"field":"top","type":"quantitative","axis":null}}},
{"data":{"name":"links"},"mark":{"type":"rule","stroke":"#000000","strokeWidth":1.2},"encoding":{"x":{"field":"xl","type":"quantitative","axis":null},"y":{"field":"top","type":"quantitative","axis":null},"y2":{"field":"bl"}}},
{"data":{"name":"links"},"mark":{"type":"rule","stroke":"#000000","strokeWidth":1.2},"encoding":{"x":{"field":"xr","type":"quantitative","axis":null},"y":{"field":"top","type":"quantitative","axis":null},"y2":{"field":"br"}}},
{"data":{"values":[{"y":127.3,"a":40,"b":496},{"y":156,"a":40,"b":496},{"y":185,"a":40,"b":496}]},"mark":{"type":"rule","stroke":"#ffffff","strokeWidth":0.6,"opacity":0.6},"encoding":{"x":{"field":"a","type":"quantitative","axis":null},"x2":{"field":"b"},"y":{"field":"y","type":"quantitative","axis":null}}},
{"data":{"name":"seps"},"mark":{"type":"rule","stroke":"#000000","strokeWidth":1.2},"encoding":{"x":{"field":"x","type":"quantitative","axis":null},"y":{"field":"y","type":"quantitative","axis":null},"y2":{"field":"y2"}}},
{"data":{"values":[{"x":40,"x2":496,"y":98,"y2":214}]},"mark":{"type":"rect","fill":"transparent","stroke":"#000000","strokeWidth":1.2},"encoding":{"x":{"field":"x","type":"quantitative","axis":null},"x2":{"field":"x2"},"y":{"field":"y","type":"quantitative","axis":null},"y2":{"field":"y2"}}},
{"data":{"name":"rowLabels"},"mark":{"type":"text","align":"right","baseline":"middle","fontSize":10,"font":"Liberation Sans","color":"#000000"},"encoding":{"x":{"field":"x","type":"quantitative","axis":null},"y":{"field":"y","type":"quantitative","axis":null},"text":{"field":"t"}}},
{"data":{"name":"rowLabels"},"mark":{"type":"rule","stroke":"#000000","strokeWidth":1},"encoding":{"x":{"field":"xt","type":"quantitative","axis":null},"x2":{"field":"xe"},"y":{"field":"y","type":"quantitative","axis":null}}},
{"data":{"values":[{"x":572.5,"x2":593,"y":118,"y2":207.3}]},"mark":{"type":"rect","stroke":"#000000","strokeWidth":1,"fill":{"gradient":"linear","x1":0,"y1":1,"x2":0,"y2":0,"stops":[{"offset":0,"color":"#ffffff"},{"offset":1,"color":"#ff0000"}]}},"encoding":{"x":{"field":"x","type":"quantitative","axis":null},"x2":{"field":"x2"},"y":{"field":"y","type":"quantitative","axis":null},"y2":{"field":"y2"}}},
{"data":{"name":"legendTicks"},"mark":{"type":"rule","stroke":"#000000","strokeWidth":1},"encoding":{"x":{"field":"xt","type":"quantitative","axis":null},"x2":{"field":"xe"},"y":{"field":"y","type":"quantitative","axis":null}}},
{"data":{"name":"legendTicks"},"mark":{"type":"text","align":"right","baseline":"middle","fontSize":9.6,"font":"Liberation Sans","color":"#000000"},"encoding":{"x":{"field":"x","type":"quantitative","axis":null},"y":{"field":"y","type":"quantitative","axis":null},"text":{"field":"t"}}},
{"data":{"values":[{"t":"Per cent autoantibody-positive","x":520,"y":163},{"t":"probes per individual","x":534.5,"y":163}]},"mark":{"type":"text","angle":270,"align":"center","baseline":"middle","fontSize":11.5,"font":"Liberation Sans","color":"#000000"},"encoding":{"x":{"field":"x","type":"quantitative","axis":null},"y":{"field":"y","type":"quantitative","axis":null},"text":{"field":"t"}}},
{"data":{"values":[{"t":"a","x":6,"y":10.5},{"t":"b","x":6,"y":257.5}]},"mark":{"type":"text","align":"left","baseline":"alphabetic","fontSize":18,"fontWeight":"bold","font":"Liberation Sans","color":"#000000"},"encoding":{"x":{"field":"x","type":"quantitative","axis":null},"y":{"field":"y","type":"quantitative","axis":null},"text":{"field":"t"}}},
{"data":{"name":"clusters"},"mark":{"type":"text","align":"center","baseline":"middle","fontSize":9.8,"font":"Liberation Sans","color":"#000000"},"encoding":{"x":{"field":"x","type":"quantitative","axis":null},"y":{"field":"y","type":"quantitative","axis":null},"text":{"field":"t"}}},
{"data":{"name":"frames"},"mark":{"type":"rect"},"encoding":{"x":{"field":"x","type":"quantitative","axis":null},"x2":{"field":"x2"},"y":{"field":"y","type":"quantitative","axis":null},"y2":{"field":"y2"},"fill":{"field":"bg","type":"nominal","scale":{"domain":["pos","neg"],"range":["#000000","#bdbdbd"]},"legend":null}}},
{"data":{"name":"patches"},"mark":{"type":"rect","strokeWidth":0.6},"encoding":{"x":{"field":"x","type":"quantitative","axis":null},"x2":{"field":"x2"},"y":{"field":"y","type":"quantitative","axis":null},"y2":{"field":"y2"},"fill":{"field":"s","type":"nominal","legend":null},"stroke":{"condition":{"test":"datum.s==='neg'","value":"#bdbdbd"},"value":"#000000"}}},
{"data":{"name":"frames"},"mark":{"type":"rect","fill":"transparent","strokeWidth":1.8},"encoding":{"x":{"field":"x","type":"quantitative","axis":null},"x2":{"field":"x2"},"y":{"field":"y","type":"quantitative","axis":null},"y2":{"field":"y2"},"stroke":{"field":"k","type":"nominal","scale":{"domain":["red","blue"],"range":["#ff0000","#33ccff"]},"legend":null}}}
]
}
